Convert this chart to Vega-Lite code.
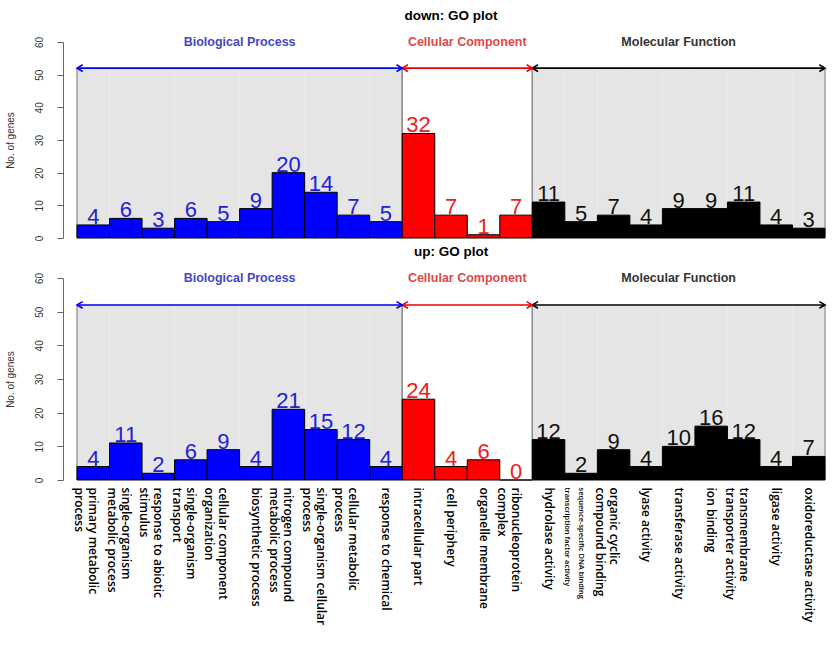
{
  "$schema": "https://vega.github.io/schema/vega-lite/v6.json",
  "padding": {"top": 8, "left": 5, "right": 4, "bottom": 4},
  "background": "white",
  "spacing": 3,
  "datasets": {
    "go": [
      {"cat": "primary metabolic|process", "ont": "Biological Process", "down": 4, "up": 4},
      {"cat": "single-organism|metabolic process", "ont": "Biological Process", "down": 6, "up": 11},
      {"cat": "response to abiotic|stimulus", "ont": "Biological Process", "down": 3, "up": 2},
      {"cat": "single-organism|transport", "ont": "Biological Process", "down": 6, "up": 6},
      {"cat": "cellular component|organization", "ont": "Biological Process", "down": 5, "up": 9},
      {"cat": "biosynthetic process", "ont": "Biological Process", "down": 9, "up": 4},
      {"cat": "nitrogen compound|metabolic process", "ont": "Biological Process", "down": 20, "up": 21},
      {"cat": "single-organism cellular|process", "ont": "Biological Process", "down": 14, "up": 15},
      {"cat": "cellular metabolic|process", "ont": "Biological Process", "down": 7, "up": 12},
      {"cat": "response to chemical", "ont": "Biological Process", "down": 5, "up": 4},
      {"cat": "intracellular part", "ont": "Cellular Component", "down": 32, "up": 24},
      {"cat": "cell periphery", "ont": "Cellular Component", "down": 7, "up": 4},
      {"cat": "organelle membrane", "ont": "Cellular Component", "down": 1, "up": 6},
      {"cat": "ribonucleoprotein|complex", "ont": "Cellular Component", "down": 7, "up": 0},
      {"cat": "hydrolase activity", "ont": "Molecular Function", "down": 11, "up": 12},
      {"cat": "sequence-specific DNA binding|transcription factor activity", "ont": "Molecular Function", "down": 5, "up": 2},
      {"cat": "organic cyclic|compound binding", "ont": "Molecular Function", "down": 7, "up": 9},
      {"cat": "lyase activity", "ont": "Molecular Function", "down": 4, "up": 4},
      {"cat": "transferase activity", "ont": "Molecular Function", "down": 9, "up": 10},
      {"cat": "ion binding", "ont": "Molecular Function", "down": 9, "up": 16},
      {"cat": "transmembrane|transporter activity", "ont": "Molecular Function", "down": 11, "up": 12},
      {"cat": "ligase activity", "ont": "Molecular Function", "down": 4, "up": 4},
      {"cat": "oxidoreductase activity", "ont": "Molecular Function", "down": 3, "up": 7}
    ]
  },
  "config": {
    "view": {"stroke": null},
    "title": {"font": "Liberation Sans", "fontSize": 13.5, "fontWeight": "bold", "color": "#000", "anchor": "middle", "offset": 14},
    "axisY": {
      "grid": false, "offset": 14, "tickSize": 6, "tickCount": 7, "labelAngle": -90, "labelAlign": "center", "labelBaseline": "bottom",
      "labelPadding": 13, "labelOverlap": false, "labelFont": "Liberation Sans", "labelFontSize": 10, "labelColor": "#333",
      "titleFont": "Liberation Sans", "titleFontSize": 10, "titleFontWeight": "normal", "titleColor": "#333", "titlePadding": 19,
      "domainColor": "#666", "tickColor": "#666"
    }
  },
  "vconcat": [
    {
      "width": 748, "height": 196,
      "title": "down: GO plot",
      "data": {"name": "go"},
      "transform": [
        {"window": [{"op": "first_value", "field": "cat", "as": "first"}, {"op": "last_value", "field": "cat", "as": "last"}, {"op": "row_number", "as": "rn"}, {"op": "count", "as": "n"}], "groupby": ["ont"], "frame": [null, null]}
      ],
      "resolve": {"scale": {"color": "independent"}},
      "layer": [
        {
          "mark": {"type": "rect"},
          "encoding": {
            "x": {"field": "cat", "type": "nominal", "sort": null, "axis": null, "scale": {"paddingInner": 0, "paddingOuter": 0}},
            "y": {"datum": 0, "type": "quantitative", "scale": {"domain": [0, 60]}, "axis": {"title": "No. of genes", "values": [0, 10, 20, 30, 40, 50, 60]}},
            "y2": {"datum": 52},
            "fill": {"condition": {"test": "datum.ont == 'Cellular Component'", "value": "white"}, "value": "#e5e5e5"}
          }
        },
        {
          "transform": [{"filter": "datum.rn == 1"}],
          "mark": {"type": "rule", "color": "#8a8a8a", "strokeWidth": 1.2},
          "encoding": {
            "x": {"field": "first", "type": "nominal", "sort": null, "bandPosition": 0},
            "y": {"datum": 0, "type": "quantitative"},
            "y2": {"datum": 52}
          }
        },
        {
          "transform": [{"filter": "datum.rn == 1"}],
          "mark": {"type": "rule", "color": "#8a8a8a", "strokeWidth": 1.2},
          "encoding": {
            "x": {"field": "last", "type": "nominal", "sort": null, "bandPosition": 1},
            "y": {"datum": 0, "type": "quantitative"},
            "y2": {"datum": 52}
          }
        },
        {
          "mark": {"type": "bar", "stroke": "#000", "strokeWidth": 1},
          "encoding": {
            "x": {"field": "cat", "type": "nominal", "sort": null},
            "y": {"field": "down", "type": "quantitative"},
            "fill": {"field": "ont", "type": "nominal", "legend": null, "scale": {"domain": ["Biological Process", "Cellular Component", "Molecular Function"], "range": ["#0000ff", "#ff0000", "#000000"]}}
          }
        },
        {
          "mark": {"type": "text", "baseline": "alphabetic", "dy": -1, "font": "Liberation Sans", "fontSize": 22},
          "encoding": {
            "x": {"field": "cat", "type": "nominal", "sort": null},
            "y": {"field": "down", "type": "quantitative"},
            "text": {"field": "down", "type": "quantitative"},
            "color": {"field": "ont", "type": "nominal", "legend": null, "scale": {"domain": ["Biological Process", "Cellular Component", "Molecular Function"], "range": ["#2020dd", "#ee1c1c", "#111111"]}}
          }
        },
        {
          "transform": [{"filter": "datum.rn == 1"}],
          "mark": {"type": "rule", "strokeWidth": 1.6},
          "encoding": {
            "x": {"field": "first", "type": "nominal", "sort": null, "bandPosition": 0},
            "x2": {"field": "last", "bandPosition": 1},
            "y": {"datum": 52, "type": "quantitative"},
            "color": {"field": "ont", "type": "nominal", "legend": null, "scale": {"domain": ["Biological Process", "Cellular Component", "Molecular Function"], "range": ["#0000ee", "#ee0000", "#000000"]}}
          }
        },
        {
          "transform": [{"filter": "datum.rn == 1"}],
          "mark": {"type": "point", "shape": "M1.2,-0.7L0,0L1.2,0.7", "filled": false, "size": 90, "strokeWidth": 1.6, "opacity": 1},
          "encoding": {
            "x": {"field": "first", "type": "nominal", "sort": null, "bandPosition": 0},
            "y": {"datum": 52, "type": "quantitative"},
            "color": {"field": "ont", "type": "nominal", "legend": null, "scale": {"domain": ["Biological Process", "Cellular Component", "Molecular Function"], "range": ["#0000ee", "#ee0000", "#000000"]}}
          }
        },
        {
          "transform": [{"filter": "datum.rn == 1"}],
          "mark": {"type": "point", "shape": "M-1.2,-0.7L0,0L-1.2,0.7", "filled": false, "size": 90, "strokeWidth": 1.6, "opacity": 1},
          "encoding": {
            "x": {"field": "last", "type": "nominal", "sort": null, "bandPosition": 1},
            "y": {"datum": 52, "type": "quantitative"},
            "color": {"field": "ont", "type": "nominal", "legend": null, "scale": {"domain": ["Biological Process", "Cellular Component", "Molecular Function"], "range": ["#0000ee", "#ee0000", "#000000"]}}
          }
        },
        {
          "transform": [{"filter": "datum.n % 2 == 0 && datum.rn == datum.n / 2 + 1"}],
          "mark": {"type": "text", "align": "center", "baseline": "middle", "font": "Liberation Sans", "fontSize": 12.5, "fontWeight": "bold"},
          "encoding": {
            "x": {"field": "cat", "type": "nominal", "sort": null, "bandPosition": 0},
            "y": {"datum": 60, "type": "quantitative"},
            "text": {"field": "ont"},
            "color": {"field": "ont", "type": "nominal", "legend": null, "scale": {"domain": ["Biological Process", "Cellular Component", "Molecular Function"], "range": ["#4646c8", "#e04848", "#333333"]}}
          }
        },
        {
          "transform": [{"filter": "datum.n % 2 == 1 && datum.rn == (datum.n + 1) / 2"}],
          "mark": {"type": "text", "align": "center", "baseline": "middle", "font": "Liberation Sans", "fontSize": 12.5, "fontWeight": "bold"},
          "encoding": {
            "x": {"field": "cat", "type": "nominal", "sort": null, "bandPosition": 0.5},
            "y": {"datum": 60, "type": "quantitative"},
            "text": {"field": "ont"},
            "color": {"field": "ont", "type": "nominal", "legend": null, "scale": {"domain": ["Biological Process", "Cellular Component", "Molecular Function"], "range": ["#4646c8", "#e04848", "#333333"]}}
          }
        }
      ]
    },
    {
      "width": 748, "height": 202,
      "title": "up: GO plot",
      "data": {"name": "go"},
      "transform": [
        {"window": [{"op": "first_value", "field": "cat", "as": "first"}, {"op": "last_value", "field": "cat", "as": "last"}, {"op": "row_number", "as": "rn"}, {"op": "count", "as": "n"}], "groupby": ["ont"], "frame": [null, null]}
      ],
      "resolve": {"scale": {"color": "independent"}},
      "layer": [
        {
          "mark": {"type": "rect"},
          "encoding": {
            "x": {"field": "cat", "type": "nominal", "sort": null, "scale": {"paddingInner": 0, "paddingOuter": 0},
              "axis": {"title": null, "domain": false, "ticks": false, "labelAngle": 90, "labelAlign": "left", "labelBaseline": "middle", "labelPadding": 7,
                "labelExpr": "split(datum.label, '|')", "labelFont": "Open Sans", "labelFontWeight": 600, "labelColor": "#000",
                "labelFontSize": {"condition": {"test": "indexof(datum.value, 'sequence-specific') >= 0", "value": 7.5}, "value": 12},
                "labelLineHeight": 14, "labelLimit": 0, "labelOverlap": false}},
            "y": {"datum": 0, "type": "quantitative", "scale": {"domain": [0, 60]}, "axis": {"title": "No. of genes", "values": [0, 10, 20, 30, 40, 50, 60]}},
            "y2": {"datum": 52},
            "fill": {"condition": {"test": "datum.ont == 'Cellular Component'", "value": "white"}, "value": "#e5e5e5"}
          }
        },
        {
          "transform": [{"filter": "datum.rn == 1"}],
          "mark": {"type": "rule", "color": "#8a8a8a", "strokeWidth": 1.2},
          "encoding": {
            "x": {"field": "first", "type": "nominal", "sort": null, "bandPosition": 0},
            "y": {"datum": 0, "type": "quantitative"},
            "y2": {"datum": 52}
          }
        },
        {
          "transform": [{"filter": "datum.rn == 1"}],
          "mark": {"type": "rule", "color": "#8a8a8a", "strokeWidth": 1.2},
          "encoding": {
            "x": {"field": "last", "type": "nominal", "sort": null, "bandPosition": 1},
            "y": {"datum": 0, "type": "quantitative"},
            "y2": {"datum": 52}
          }
        },
        {
          "mark": {"type": "bar", "stroke": "#000", "strokeWidth": 1},
          "encoding": {
            "x": {"field": "cat", "type": "nominal", "sort": null},
            "y": {"field": "up", "type": "quantitative"},
            "fill": {"field": "ont", "type": "nominal", "legend": null, "scale": {"domain": ["Biological Process", "Cellular Component", "Molecular Function"], "range": ["#0000ff", "#ff0000", "#000000"]}}
          }
        },
        {
          "mark": {"type": "text", "baseline": "alphabetic", "dy": -1, "font": "Liberation Sans", "fontSize": 22},
          "encoding": {
            "x": {"field": "cat", "type": "nominal", "sort": null},
            "y": {"field": "up", "type": "quantitative"},
            "text": {"field": "up", "type": "quantitative"},
            "color": {"field": "ont", "type": "nominal", "legend": null, "scale": {"domain": ["Biological Process", "Cellular Component", "Molecular Function"], "range": ["#2020dd", "#ee1c1c", "#111111"]}}
          }
        },
        {
          "transform": [{"filter": "datum.rn == 1"}],
          "mark": {"type": "rule", "strokeWidth": 1.6},
          "encoding": {
            "x": {"field": "first", "type": "nominal", "sort": null, "bandPosition": 0},
            "x2": {"field": "last", "bandPosition": 1},
            "y": {"datum": 52, "type": "quantitative"},
            "color": {"field": "ont", "type": "nominal", "legend": null, "scale": {"domain": ["Biological Process", "Cellular Component", "Molecular Function"], "range": ["#0000ee", "#ee0000", "#000000"]}}
          }
        },
        {
          "transform": [{"filter": "datum.rn == 1"}],
          "mark": {"type": "point", "shape": "M1.2,-0.7L0,0L1.2,0.7", "filled": false, "size": 90, "strokeWidth": 1.6, "opacity": 1},
          "encoding": {
            "x": {"field": "first", "type": "nominal", "sort": null, "bandPosition": 0},
            "y": {"datum": 52, "type": "quantitative"},
            "color": {"field": "ont", "type": "nominal", "legend": null, "scale": {"domain": ["Biological Process", "Cellular Component", "Molecular Function"], "range": ["#0000ee", "#ee0000", "#000000"]}}
          }
        },
        {
          "transform": [{"filter": "datum.rn == 1"}],
          "mark": {"type": "point", "shape": "M-1.2,-0.7L0,0L-1.2,0.7", "filled": false, "size": 90, "strokeWidth": 1.6, "opacity": 1},
          "encoding": {
            "x": {"field": "last", "type": "nominal", "sort": null, "bandPosition": 1},
            "y": {"datum": 52, "type": "quantitative"},
            "color": {"field": "ont", "type": "nominal", "legend": null, "scale": {"domain": ["Biological Process", "Cellular Component", "Molecular Function"], "range": ["#0000ee", "#ee0000", "#000000"]}}
          }
        },
        {
          "transform": [{"filter": "datum.n % 2 == 0 && datum.rn == datum.n / 2 + 1"}],
          "mark": {"type": "text", "align": "center", "baseline": "middle", "font": "Liberation Sans", "fontSize": 12.5, "fontWeight": "bold"},
          "encoding": {
            "x": {"field": "cat", "type": "nominal", "sort": null, "bandPosition": 0},
            "y": {"datum": 60, "type": "quantitative"},
            "text": {"field": "ont"},
            "color": {"field": "ont", "type": "nominal", "legend": null, "scale": {"domain": ["Biological Process", "Cellular Component", "Molecular Function"], "range": ["#4646c8", "#e04848", "#333333"]}}
          }
        },
        {
          "transform": [{"filter": "datum.n % 2 == 1 && datum.rn == (datum.n + 1) / 2"}],
          "mark": {"type": "text", "align": "center", "baseline": "middle", "font": "Liberation Sans", "fontSize": 12.5, "fontWeight": "bold"},
          "encoding": {
            "x": {"field": "cat", "type": "nominal", "sort": null, "bandPosition": 0.5},
            "y": {"datum": 60, "type": "quantitative"},
            "text": {"field": "ont"},
            "color": {"field": "ont", "type": "nominal", "legend": null, "scale": {"domain": ["Biological Process", "Cellular Component", "Molecular Function"], "range": ["#4646c8", "#e04848", "#333333"]}}
          }
        }
      ]
    }
  ]
}
